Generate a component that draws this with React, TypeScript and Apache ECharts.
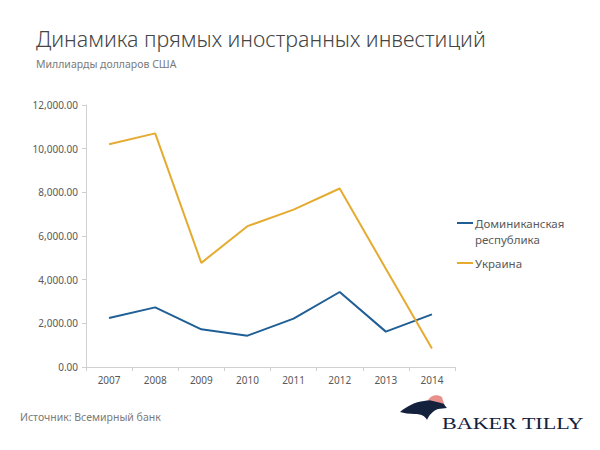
import React, { useEffect, useRef } from "react";
import * as echarts from "echarts";

const years = ["2007", "2008", "2009", "2010", "2011", "2012", "2013", "2014"];
const dominican = [2240, 2730, 1725, 1435, 2215, 3435, 1620, 2410];
const ukraine = [10200, 10700, 4770, 6450, 7210, 8175, 4500, 850];
const seriesNames = ["Доминиканская\nреспублика", "Украина"];
const colors = ["#1f5f96", "#e5ab31"];

const titleText = "Динамика прямых иностранных инвестиций";
const subtitleText = "Миллиарды долларов США";
const sourceText = "Источник: Всемирный банк";
const logoText = "BAKER TILLY";

const birdBody =
  "M0 17 C7 11 15 7 24 6 C30 5 36 4 41 3 L44 9 C45 11 47 13 47 13 L38 14 C33 16 29 20 27 25 C25 21 21 19 15 19 C9 19 4 18 0 17 Z";
const birdHead = "M28 5 C31 0 37 -1 42 2 L44 9 C39 7 33 6 28 5 Z";

let registered = false;
function registerShapes() {
  if (registered) return;
  echarts.graphic.registerShape("birdBody", echarts.graphic.extendPath(birdBody, {}));
  echarts.graphic.registerShape("birdHead", echarts.graphic.extendPath(birdHead, {}));
  registered = true;
}

export default function App() {
  const ref = useRef<HTMLDivElement>(null);
  useEffect(() => {
    registerShapes();
    const chart = echarts.init(ref.current!, null, { renderer: "svg" });
    const font = "'Noto Sans', 'Open Sans', sans-serif";
    chart.setOption({
      animation: false,
      backgroundColor: "#ffffff",
      textStyle: { fontFamily: font },
      grid: { left: 86, right: 145, top: 105, bottom: 83, containLabel: false },
      xAxis: {
        type: "category",
        data: years,
        boundaryGap: true,
        axisLine: { lineStyle: { color: "#d0d0d0", width: 1 } },
        axisTick: { show: true, length: 4, lineStyle: { color: "#d0d0d0" } },
        axisLabel: { color: "#595959", fontSize: 10, margin: 8, fontFamily: font },
        splitLine: { show: false },
      },
      yAxis: {
        type: "value",
        min: 0,
        max: 12000,
        interval: 2000,
        axisLine: { show: true, lineStyle: { color: "#d0d0d0", width: 1 } },
        axisTick: { show: true, length: 4, lineStyle: { color: "#d0d0d0" } },
        axisLabel: {
          color: "#595959",
          fontSize: 10,
          margin: 8,
          fontFamily: font,
          formatter: (v: number) =>
            v.toLocaleString("en-US", { minimumFractionDigits: 2, maximumFractionDigits: 2 }),
        },
        splitLine: { show: false },
      },
      series: [
        {
          name: seriesNames[0],
          type: "line",
          data: dominican,
          symbol: "none",
          lineStyle: { color: colors[0], width: 2 },
          itemStyle: { color: colors[0] },
        },
        {
          name: seriesNames[1],
          type: "line",
          data: ukraine,
          symbol: "none",
          lineStyle: { color: colors[1], width: 2 },
          itemStyle: { color: colors[1] },
        },
      ],
      graphic: [
        {
          type: "text",
          left: 36,
          top: 28,
          style: { text: titleText, fontSize: 21.4, fontWeight: 300, fill: "#454545", fontFamily: font },
        },
        {
          type: "text",
          left: 36,
          top: 58,
          style: { text: subtitleText, fontSize: 10.5, fill: "#7a7a7a", fontFamily: font },
        },
        {
          type: "line",
          shape: { x1: 457, y1: 223, x2: 473, y2: 223 },
          style: { stroke: colors[0], lineWidth: 2 },
        },
        {
          type: "text",
          left: 475,
          top: 215,
          style: { text: seriesNames[0], fontSize: 11.5, lineHeight: 16, fill: "#595959", fontFamily: font },
        },
        {
          type: "line",
          shape: { x1: 457, y1: 263, x2: 473, y2: 263 },
          style: { stroke: colors[1], lineWidth: 2 },
        },
        {
          type: "text",
          left: 475,
          top: 255,
          style: { text: seriesNames[1], fontSize: 11.5, lineHeight: 16, fill: "#595959", fontFamily: font },
        },
        {
          type: "text",
          left: 20,
          top: 411,
          style: { text: sourceText, fontSize: 10.5, fill: "#7a7a7a", fontFamily: font },
        },
        {
          type: "birdBody",
          x: 400,
          y: 395,
          style: { fill: "#14213d" },
        },
        {
          type: "birdHead",
          x: 400,
          y: 395,
          style: { fill: "#e8908c" },
        },
        {
          type: "text",
          x: 442,
          y: 416,
          scaleX: 1.38,
          style: {
            text: logoText,
            fontSize: 16,
            fill: "#14213d",
            fontFamily: "'Liberation Serif', 'DejaVu Serif', serif",
          },
        },
      ],
    });
    return () => chart.dispose();
  }, []);
  return <div ref={ref} style={{ width: 600, height: 450, position: "absolute", left: 0, top: 0 }} />;
}
